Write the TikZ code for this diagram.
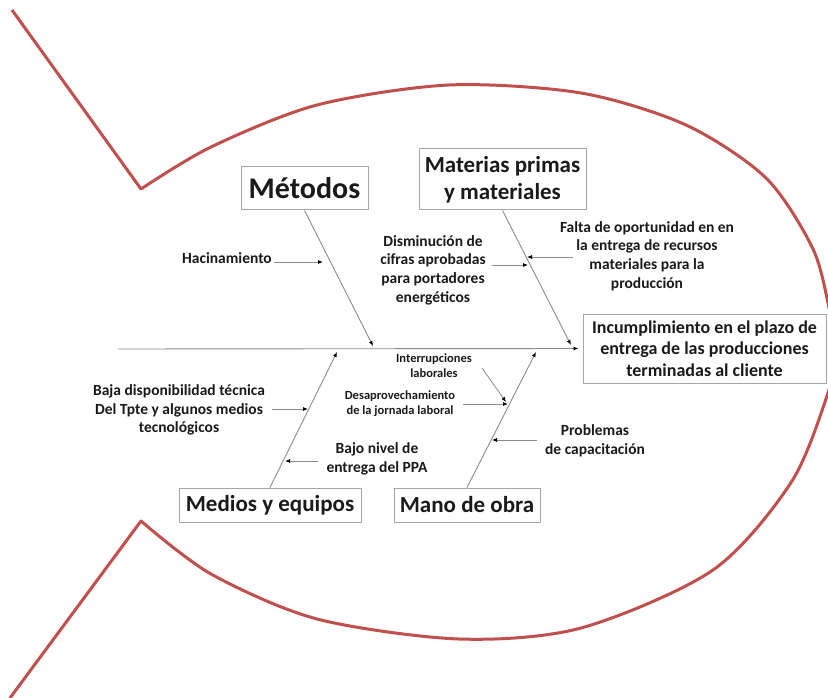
\documentclass[tikz,border=0pt]{standalone}
\usepackage{fontspec}
\setmainfont{Carlito}
\usetikzlibrary{arrows.meta}
\definecolor{fishred}{HTML}{C0504D}
\definecolor{boxgray}{HTML}{A6A6A6}
\definecolor{bonegray}{HTML}{8C8C8C}
\definecolor{txt}{HTML}{1A1A1A}
\begin{document}
\begin{tikzpicture}[x=1pt,y=-1pt,
  cat/.style={draw=boxgray,line width=1pt,fill=white,inner sep=0pt,align=center,text=txt,font=\fontsize{23}{27}\selectfont\bfseries},
  cause/.style={inner sep=0pt,align=center,text=txt,font=\fontsize{15.5}{18.7}\selectfont\bfseries},
  smallcause/.style={inner sep=0pt,align=center,text=txt,font=\fontsize{12.5}{15}\selectfont\bfseries},
  bone/.style={draw=bonegray,line width=0.9pt,-{Latex[length=5pt,width=4pt,color=black]}},
  sub/.style={draw=bonegray,line width=0.8pt,-{Latex[length=5pt,width=4pt,color=black]}},
  fish/.style={draw=fishred,line width=3pt,line join=round}]
\useasboundingbox (0,0) rectangle (828,698);
\fill[white] (0,0) rectangle (828,698);
\begin{scope}
\clip (0,0) rectangle (828,698);
\draw[fish] (12,10) -- plot[smooth] coordinates {(141,189) (211,147) (317,105) (449,85) (581,93) (686,125) (766,178) (813,249) (830,312) (838,350) (830,387) (792,481) (713,570) (581,628) (459,639) (317,619) (211,574) (141,521)} -- (10,698);
\end{scope}

% category boxes
\node[cat,font=\fontsize{30}{34}\selectfont\bfseries,minimum width=127pt,minimum height=43pt] (met) at (304.5,188.5) {Métodos};
\node[cat,minimum width=167pt,minimum height=61pt] (mat) at (502.5,179.5) {Materias primas\\y materiales};
\node[cat,font=\fontsize{18}{21.7}\selectfont\bfseries,minimum width=243pt,minimum height=69pt] (inc) at (704.5,348.5) {Incumplimiento en el plazo de\\entrega de las producciones\\terminadas al cliente};
\node[cat,minimum width=182pt,minimum height=34pt] (med) at (270,505) {Medios y equipos};
\node[cat,minimum width=146pt,minimum height=34pt] (mano) at (467,505) {Mano de obra};

% spine and bones
\coordinate (s0) at (118,349);
\coordinate (t1) at (373,346);
\coordinate (t2) at (571,345);
\coordinate (t3) at (337,352);
\coordinate (t4) at (536,352);
\draw[bone] (s0) -- ([xshift=-4pt]inc.west);
\draw[bone] (met.south) -- (t1);
\draw[bone] (mat.south) -- (t2);
\draw[bone] (med.north) -- (t3);
\draw[bone] (mano.north) -- (t4);

% causes
\node[cause,anchor=base east] (hac) at (272,263) {Hacinamiento};
\node[cause] (dis) at (433,270) {Disminución de\\cifras aprobadas\\para portadores\\energéticos};
\node[cause] (fal) at (647,256) {Falta de oportunidad en en\\la entrega de recursos\\materiales para la\\producción};
\node[smallcause] (intr) at (434,366) {Interrupciones\\laborales};
\node[smallcause] (des) at (400,404) {Desaprovechamiento\\de la jornada laboral};
\node[cause] (prob) at (595,441) {Problemas\\de capacitación};
\node[cause] (baja) at (179,410) {Baja disponibilidad técnica\\Del Tpte y algunos medios\\tecnológicos};
\node[cause] (bajo) at (377,459) {Bajo nivel de\\entrega del PPA};

% cause arrows
\coordinate (h0) at (274,262); \coordinate (h1) at (323,262);
\coordinate (d0) at (492,265); \coordinate (d1) at (528,265);
\coordinate (f0) at (573,257); \coordinate (f1) at (527,257);
\coordinate (i0) at (482,368); \coordinate (i1) at (506,402);
\coordinate (e0) at (463,404); \coordinate (e1) at (508,404);
\coordinate (p0) at (537,440); \coordinate (p1) at (492,440);
\coordinate (b0) at (272,409); \coordinate (b1) at (308,409);
\coordinate (n0) at (318,461); \coordinate (n1) at (285,461);
\draw[sub] (h0) -- (h1);
\draw[sub] (d0) -- (d1);
\draw[sub] (f0) -- (f1);
\draw[sub] (i0) -- (i1);
\draw[sub] (e0) -- (e1);
\draw[sub] (p0) -- (p1);
\draw[sub] (b0) -- (b1);
\draw[sub] (n0) -- (n1);
\end{tikzpicture}
\end{document}
